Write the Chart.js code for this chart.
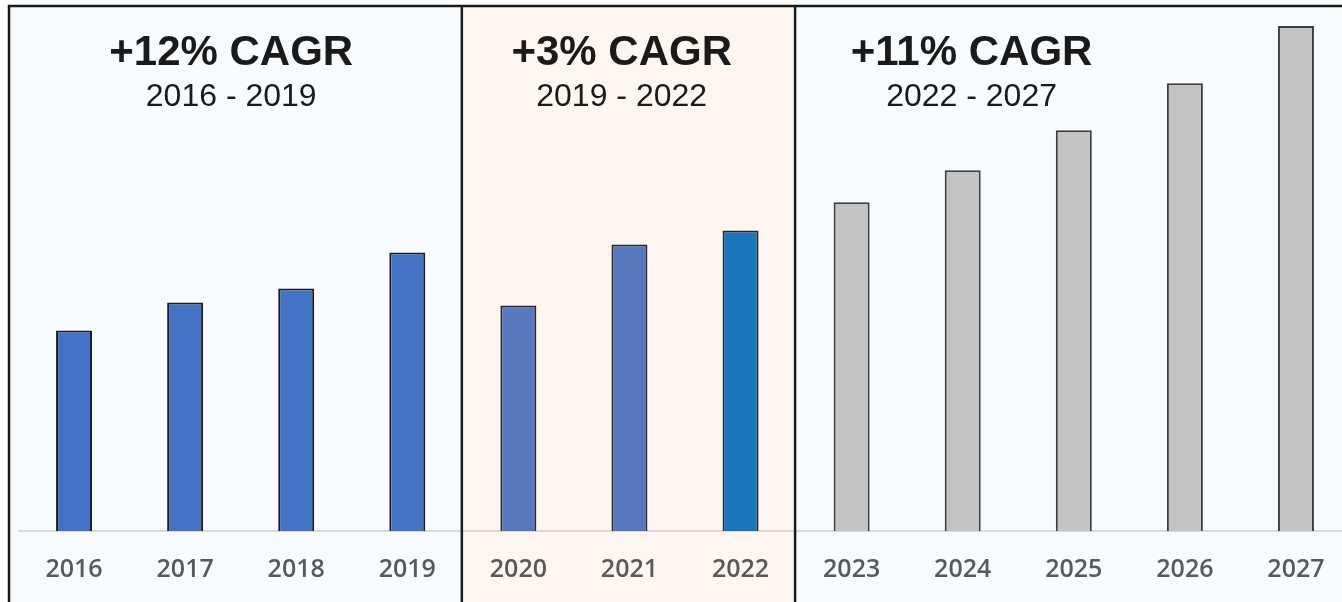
<!DOCTYPE html>
<html>
<script src="https://cdn.jsdelivr.net/npm/chart.js@4.4.1/dist/chart.umd.min.js"></script>
<style>
    html, body { margin: 0; padding: 0; overflow: hidden; background: #ffffff; }
    #wrap { width: 1360px; height: 602px; overflow: hidden; }
</style>
<body>
    <div id="wrap">
        <canvas id="cagrChart" width="1360" height="609"></canvas>
    </div>
</body>
<script>
    // data (index, 2016 = 100)
    var years = ['2016', '2017', '2018', '2019', '2020', '2021', '2022', '2023', '2024', '2025', '2026', '2027'];
    var values = [100, 114, 121, 139, 112.5, 143, 150, 164, 180, 200, 223.5, 252];
    var barColors = ['#4472c4', '#4472c4', '#4472c4', '#4472c4', '#5778be', '#5778be', '#1b75bb',
                     '#c3c3c3', '#c3c3c3', '#c3c3c3', '#c3c3c3', '#c3c3c3'];
    var barBorders = ['#1c1c1c', '#1c1c1c', '#1c1c1c', '#1c1c1c', '#262626', '#262626', '#262626',
                      '#3d3d3d', '#3d3d3d', '#3d3d3d', '#3d3d3d', '#3d3d3d'];

    var cagrTitles = ['+12% CAGR', '+3% CAGR', '+11% CAGR'];
    var cagrRanges = ['2016 - 2019', '2019 - 2022', '2022 - 2027'];
    // where each title is centred, in category units, and the category boundaries between panels
    var titleAnchors = [1.415, 4.93, 8.08];
    var panelBreaks = [3.5, 6.5];
    var panelFills = ['#f7fbfd', '#fdf6f0', '#f7fbfd'];

    var panels = {
        id: 'panels',
        beforeDraw: function(chart) {
            var ctx = chart.ctx;
            var x = chart.scales.x;
            var top = 6, left = 9, h = chart.height;
            var edges = [left, x.getPixelForValue(panelBreaks[0]), x.getPixelForValue(panelBreaks[1]), chart.width];
            ctx.save();
            ctx.fillStyle = '#ffffff';
            ctx.fillRect(0, 0, chart.width, h);
            for (var i = 0; i < 3; i++) {
                ctx.fillStyle = panelFills[i];
                ctx.fillRect(edges[i], top, edges[i + 1] - edges[i], h - top);
            }
            ctx.restore();
        },
        afterDraw: function(chart) {
            var ctx = chart.ctx;
            var x = chart.scales.x;
            var top = 6, left = 9, h = chart.height;
            ctx.save();
            ctx.strokeStyle = '#1a1a1a';
            ctx.lineWidth = 2.5;
            ctx.beginPath();
            ctx.moveTo(left, h);
            ctx.lineTo(left, top);
            ctx.lineTo(chart.width, top);
            panelBreaks.forEach(function(b) {
                var px = x.getPixelForValue(b) - 1;
                ctx.moveTo(px, top);
                ctx.lineTo(px, h);
            });
            ctx.stroke();

            ctx.fillStyle = '#1a1a1a';
            ctx.textAlign = 'center';
            ctx.textBaseline = 'alphabetic';
            for (var i = 0; i < 3; i++) {
                var cx = x.getPixelForValue(titleAnchors[i]);
                ctx.font = 'bold 42px "Liberation Sans", Arial, sans-serif';
                ctx.fillText(cagrTitles[i], cx, 65);
                ctx.font = '32px "Liberation Sans", Arial, sans-serif';
                ctx.fillText(cagrRanges[i], cx, 106);
            }
            ctx.restore();
        }
    };

    var cagrChart = new Chart(document.getElementById('cagrChart').getContext('2d'), {
        type: 'bar',
        data: {
            labels: years,
            datasets: [{
                data: values,
                backgroundColor: barColors,
                borderColor: barBorders,
                borderWidth: 2,
                barPercentage: 0.324,
                categoryPercentage: 1
            }]
        },
        options: {
            responsive: false,
            animation: false,
            layout: { padding: { left: 18.5, right: 8.5, top: 10, bottom: 0 } },
            plugins: {
                legend: { display: false },
                tooltip: { enabled: false }
            },
            scales: {
                x: {
                    grid: { display: false, drawTicks: false },
                    border: { display: true, color: '#d9d9d9', width: 2 },
                    ticks: {
                        color: '#595959',
                        padding: 24,
                        font: { family: '"Open Sans", sans-serif', size: 25, weight: 600 }
                    }
                },
                y: {
                    display: false,
                    min: 0,
                    max: 260
                }
            }
        },
        plugins: [panels]
    });
</script>
</html>
